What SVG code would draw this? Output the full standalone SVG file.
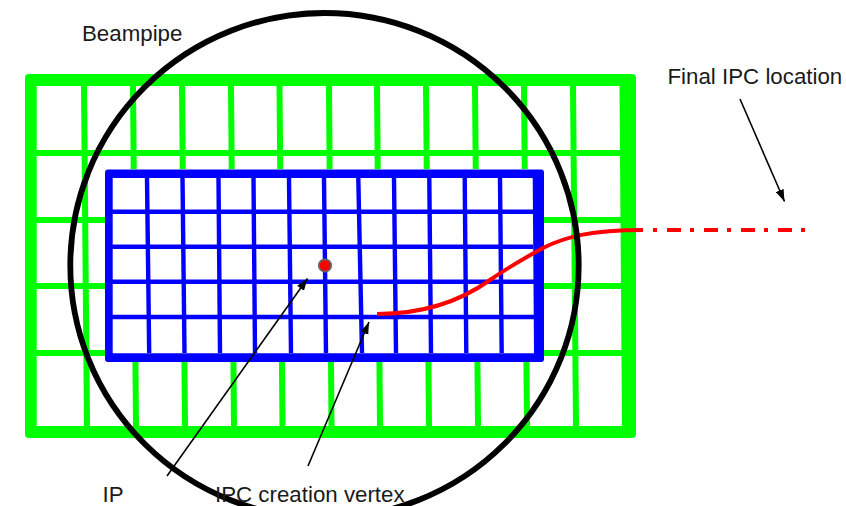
<svg xmlns="http://www.w3.org/2000/svg" width="846" height="506" viewBox="0 0 846 506">
<style>
.g{stroke:#00ff00;stroke-width:6;fill:none}
.b{stroke:#0000ff;stroke-width:4.4;fill:none}
.t{font-family:"Liberation Sans",Arial,sans-serif;font-size:22.300px;fill:#1a1a1a}
.a{stroke:#000;stroke-width:1.600;fill:none;marker-end:url(#ah)}
.r{stroke:#ff0000;stroke-width:4;fill:none}
</style>
<defs>
<marker id="ah" markerUnits="userSpaceOnUse" markerWidth="13" markerHeight="9" refX="12" refY="4.500" orient="auto">
<path d="M0 0.300L12 4.500L0 8.700Z" fill="#000"/>
</marker>
</defs>
<rect width="846" height="506" fill="#fff"/>
<g id="green-grid">
<path fill="#00ff00" fill-rule="evenodd" d="M29 74H632Q636 74 636 78V434Q636 438 632 438H29Q25 438 25 434V78Q25 74 29 74ZM36.700 86V426H622L619.500 86Z"/>
<path class="g" d="M84 86L87 426M133 86L136 426M182 86L185 426M231 86L234 426M279.500 86L282.500 426M329 86L331.500 426M377 86L380 426M426 86L429 426M475 86L478 426M524 86L527 426M573 86L576 426"/>
<path class="g" d="M36 153H620M36 220H621M36 286H621M36 353H622"/>
</g>
<g id="blue-grid">
<path fill="#fff" d="M105 169H544V362H105Z"/>
<path fill="#0000ff" fill-rule="evenodd" d="M108 169.500H541Q544 169.500 544 172.500V359Q544 362 541 362H108Q105 362 105 359V172.500Q105 169.500 108 169.500ZM112.700 178V353.300H534L532.700 178Z"/>
<path class="b" d="M147 178L149.200 353M182.500 178L184.500 353M218.500 178L220 353M253.500 178L255 353M289 178L291 353M324 178L326 353M358.300 178L362 353M394 178L396 353M429.300 178L431 353M464.700 178L466.300 353M500 178L501.700 353"/>
<path class="b" d="M112 211.700H533M112 246.700H533M112 281.700H534M112 317H534"/>
</g>
<g id="ip-point"><circle cx="325" cy="265.500" r="6.200" fill="#ff0000" stroke="#666" stroke-width="1.800"/></g>
<g id="ipc-track">
<path class="r" d="M377 314C425 314 462 300 490 280C510 266 525 258 543 248C565 237 590 230 643 230"/>
<path class="r" stroke-dasharray="4 10 14 9" d="M653 230H805"/>
</g>
<g id="beampipe"><ellipse cx="324.500" cy="265.500" rx="254.200" ry="252.500" fill="none" stroke="#000" stroke-width="5.800"/></g>
<g id="connectors">
<path class="a" d="M167 476L307.500 278.500"/>
<path class="a" d="M308 466L369 322"/>
<path class="a" d="M740 99L784.500 201.500"/>
</g>
<g id="labels">
<text class="t" x="82" y="41">Beampipe</text>
<text class="t" x="667.500" y="83.500">Final IPC location</text>
<text class="t" x="102.500" y="502">IP</text>
<text class="t" x="215" y="502">IPC creation vertex</text>
</g>
</svg>
